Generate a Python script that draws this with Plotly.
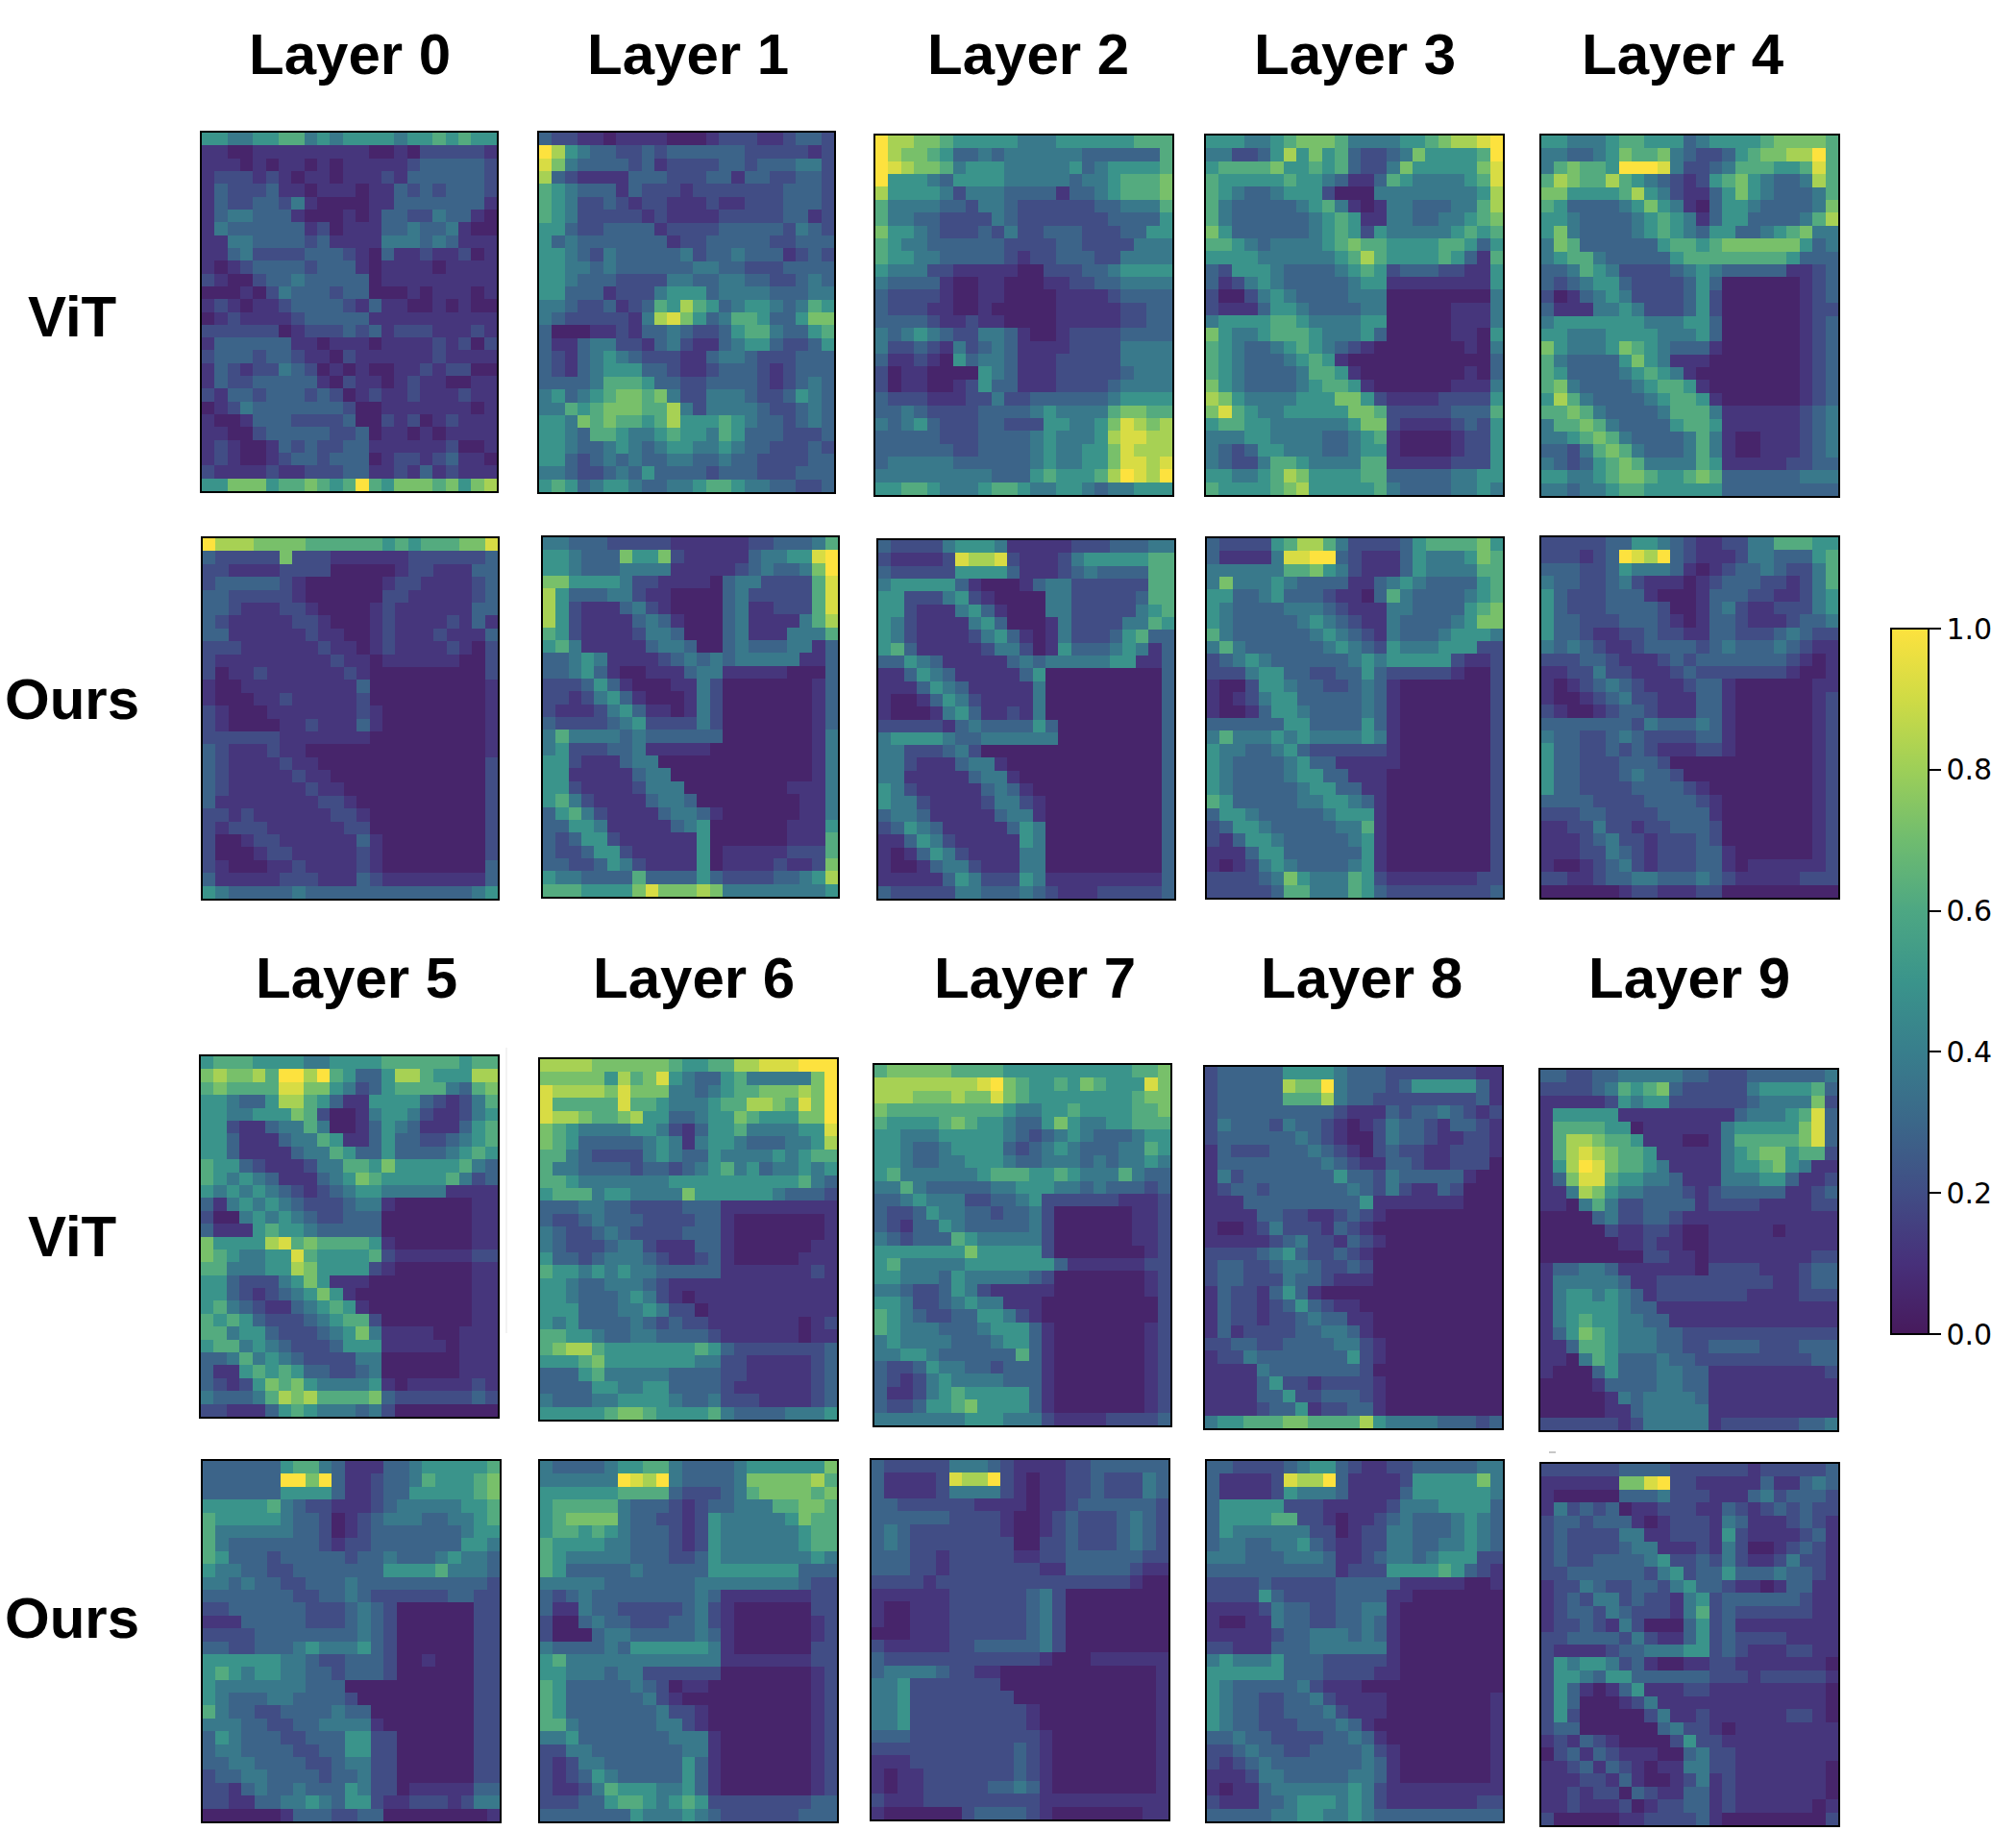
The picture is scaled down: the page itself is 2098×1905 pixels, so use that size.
import plotly.graph_objects as go

# each string is one row of a panel, one character per cell (an index into level_values)
level_values = [0.05, 0.12, 0.2, 0.29, 0.38, 0.5, 0.62, 0.72, 0.82, 0.92, 1.0]

vit_layer_0 = [
    "55445566454555545565655", "11001111111110010222221", "11101011010111112333332", "12221210110111213333332",
    "13222311011101132323332", "13223324100001133333331", "13443331000101332243310", "14333333120111334334100",
    "11443333231111444343111", "11342222333210311211201", "10123333233310111101111", "21002334333330111111111",
    "00010243332330001011101", "12101123333213110010100", "01211112333331111111111", "22222201222323122211121",
    "13333331101110111121202", "23332332110211111121111", "13212243201010011212200", "13223333310211012110011",
    "21332333232012112111211", "01243333333200111111101", "10013332222300212012111", "11002333332230110101111",
    "12100132322331111112001", "12100123323330122123110", "21111211222331121312111", "557775667656A6577767578",
]
vit_layer_1 = [
    "32211011110001222112332", "A8543322323333332222212", "97433332312222332333442", "83211113332223313322332",
    "65433313222122222223332", "65422321221112112223332", "65422222121111222223312", "55322333312222333332432",
    "53433333331223333322333", "55432433333423343331232", "55443433333344332223333", "55433322224433443322343",
    "55333122245553444433344", "44322312365865345543465", "43222221489753466533577", "30001121334322356643356",
    "31134422134211345532235", "32134543222113443222333", "32134555332112333212333", "33334666533223333212343",
    "45345677674224443223543", "44656777668424444322343", "55476766568555654332343", "55436654456554653332223",
    "55433454345544543322232", "55323434334433433222233", "44322343533332333222333", "56534554334456654433223",
]
vit_layer_2 = [
    "A8877655555444555555666", "A8776533434444443333336", "A9877645554444453455556", "A5554355554444434456667",
    "85555424443333133456667", "64444332443222222334446", "64433222243222222233335", "75543222324223332223355",
    "65443333332222332222444", "65544333332122333224444", "54442211111002223345555", "43333100110001122334444",
    "32222100110000111123333", "32221100100000111112233", "33332112110000111112233", "43454322443100122223333",
    "42232142343111122224444", "31121053443111222224444", "20110000543111222223444", "20110012533111222234444",
    "32221112242233333345555", "33432222333345444467766", "43453222332225544579878", "33333222333345444589988",
    "33333322333345445579888", "34444433333345445579989", "4444444443335655568A98A", "55665444566544554344555",
]
vit_layer_3 = [
    "5554456777644445567889A", "4422358575632234755556A", "56666755656322475555579", "65555565543113654444569",
    "65433455520004444444458", "64333334564101443334468", "64333333456511443344567", "75333333456525444445656",
    "66543444456766555566535", "55554444445686555565316", "32555433334565233322115", "31245433333455111111115",
    "20024543333444000000004", "21113554333344000001114", "45555665444455000001114", "75445666544453000001105",
    "65433456543210000000104", "65433345651000000000003", "65433334665100000000103", "75433334566510000001114",
    "87544445557752111122225", "79654455555776222223336", "56655444444577211112325", "44455444433456100001225",
    "43235544433455100001225", "43224665444466111112225", "55445687555566333334455", "65555678555556433334454",
]
vit_layer_4 = [
    "55444566555345555677776", "443345766743223567788A6", "467665AAA94223466655696", "68766865432125675433486",
    "77555568542113575433346", "65333345754103554333347", "55433334565413553333468", "57433334565435533456744",
    "47633333356656777777534", "45664333335666666665333", "33465422223454333331123", "32345532222353000000123",
    "20134542222352000000123", "31114454222352000000122", "45555555444553000000123", "55444555544453000000123",
    "75444576543331000000123", "64333357541110000000123", "65333345654100000000123", "67433334566510000000123",
    "58643333456651000000123", "66764333346664111111234", "46676433335665111111234", "44567643333464100111234",
    "33246764333464100111234", "43235676444465111112233", "55445677655676333333444", "44344566555555333333333",
]
ours_layer_0 = [
    "A8887777666666565666779", "32222272221111112222223", "22111122220000012211133", "23333321000000122111123",
    "33222221000000221111123", "33211122100001211111133", "32111112210001211112131", "33111111211001211121113",
    "22211111121101211112102", "21111111112110111111002", "20112111111210000000002", "10011111111130000000001",
    "10001121111120000000001", "21000111111121000000001", "21000011211131000000001", "22222211111110000000001",
    "32111211000000000000001", "32111121100000000000002", "32111112110000000000002", "32111111211000000000002",
    "31111111122100000000002", "22121111112210000000002", "21222111111220000000002", "20012211111131000000002",
    "20001221111121000000002", "21000112111121000000003", "31111122211132111111113", "54333334333333333333345",
]
ours_layer_1 = [
    "44333222221111112233346", "5543337557211111344559A", "5543334444111112343347A", "77555542211110344222269",
    "85333442110000342222269", "85211134210000341122269", "85211113431000341111468", "65211112443000341114446",
    "56411111344300343334413", "33454111123434344444113", "33453100111344111110003", "22235310001142000000013",
    "22124531000142000000013", "21112453110142000000013", "32222345222242000000013", "46444434333333000000014",
    "45222334111110000000014", "55211134400000000000014", "55111113440000000000014", "55211112444000000001114",
    "56421111344300000000114", "35642111134431000000114", "33554111113450000001115", "32355211111150000001116",
    "32235521111150111112226", "33223542111150111121127", "54433336333353222233458", "66655557977787444444445",
]
ours_layer_2 = [
    "32222455541111122233344", "21111298892111245555566", "32222255553111234333366", "45555531000134422222266",
    "55222452100004422222366", "55211145310004422222456", "54211114530001422224465", "54211112453101422235633",
    "56311111244201533345413", "33543111113434444455113", "11354311111350000000003", "11135431111140000000003",
    "10013542111140000000003", "10001453112140000000003", "22222134333353000000003", "45555433444444000000003",
    "44222342000000000000003", "44211134410000000000003", "44111113441000000000003", "54211111343100000000003",
    "54421111244210000000003", "34431111134410000000003", "23543111113540000000003", "11354211111540000000003",
    "10135421111440000000003", "10013442111440000000003", "11111354222541111111113", "32222244333432111222223",
]
ours_layer_3 = [
    "32222568864222235666675", "3111149 9AA3211135444576".replace(" ", ""), "44444466754211135444466", "47444543333113454333356",
    "55334533321103643333456", "54333344432111443333567", "54333334543211433334577", "64333333454321433345554",
    "46433333345432544455522", "23454333333454555552112", "22245533223353222221002", "10025543322343100000002",
    "10124553333343100000002", "10013554333343100000002", "33333355333353100000002", "46444545444454100000002",
    "54433453222222100000002", "54333345331111100000002", "54333345533111000000002", "54333334553311000000002",
    "65333334455431000000002", "35543333345551000000002", "23554333334461000000002", "21355433333451000000002",
    "11135533333351000000002", "10124543333451000000002", "22223475444652111111122", "22222366444653222222223",
]
ours_layer_4 = [
    "22222335543211224466655", "222123A98A3211124433356", "33322354443101233432246", "43322342111012333221246",
    "53222333100013332211245", "53222333320013421122245", "53322233321013321112334", "53321122322113322234322",
    "43432112333323433343211", "22233211123233333332101", "11224221112322222221001", "10123432111233100000011",
    "10012342211133100000012", "21001233211133100000012", "33333332433343100000012", "43322343222233100000012",
    "53322323211122100000012", "53322233320000000000012", "53322234332000000000012", "53322223333210000000012",
    "33332222333321000000012", "22233222233331000000012", "11224221223332000000012", "11123422122232000000012",
    "11122432122233100000012", "10012342122233101111112", "22112334433343211111222", "00000012211122000000000",
]
vit_layer_5 = [
    "56665555445555666666566", "787786AA8A6533588655588", "67666699775423566664367", "55433588653115555321246",
    "55445557620014554211245", "55211344640013543111356", "55311134465113533223456", "55311113446533533334565",
    "65532111244665755555643", "65454311134576555556423", "54545432123455444441111", "31454543222344100000011",
    "20045454322333000000011", "31115655433333000000011", "75555896766665100000011", "76544559655556211111122",
    "66444558755552100000011", "55322245751110000000011", "55321234575100000000011", "56432113456510000000011",
    "65653222345662000000011", "66455322234574111100111", "56645432223555111110111", "33464543222244000000111",
    "31156565332234000000111", "32125767544445101111121", "43334687866667322222232", "22111356544434200000000",
]
vit_layer_6 = [
    "88887777776556688999AAA", "7777758679543356444447A", "9888879777443456677787A", "9666669665444566887697A",
    "9887667855334557655577A", "76544445542135564444559", "76533333454145543334458", "66432222454335444454566",
    "64433332332345645344545", "66544444445555555555643", "56664554444755555543332", "33344332222333111111111",
    "32234333222233100000001", "43223432222333100000001", "43222344211133100000011", "53323444321123100000111",
    "65545454433333111111121", "55433444321111111111111", "55433345421011111111111", "55533344542201111111111",
    "54533334323221111111012", "66554334433332111111011", "67886555555565322222223", "55567555555544221111123",
    "33356444443333221111123", "33335544553333211111123", "43334455554334222111123", "55555677655556433334445",
]
vit_layer_7 = [
    "67777766665555555555667", "888888889A7655657655597", "88877787797655555555677", "76666666665445565555667",
    "65555676554335754455666", "55444555554323454333455", "55433455553234543334465", "55433445554334443434454",
    "56444444566655654446433", "44643333344555443433323", "33454442233452222221112", "32235443323342000000112",
    "32133543333342000000112", "43233365444442000000112", "55555557555552000000012", "56444445555555311111122",
    "55444354444432000000012", "44322354211111000000012", "55422345441110000000002", "65432233554210000000002",
    "65444333455531000000012", "45444433345531000000012", "44554333333631000000012", "32235443323331000000012",
    "32124544443331000000012", "31124565555531000000012", "32235567555531000000012", "44444445554442111122223",
]
vit_layer_8 = [
    "23333355554333222222211", "233333877A4333235555531", "23333366684332222222231", "23333333332111323343212",
    "24333243321012433213321", "23333334321002433211221", "13222333432102322112221", "13333333343211332112220",
    "14233333335332433333100", "12332333333432421132000", "11133333333351111111000", "11113322112321000000000",
    "10012422213210000000000", "11111234221321000000000", "22223453223210000000000", "23322344322320000000000",
    "23322243321110000000000", "13221353100000000000000", "13221235321100000000000", "13221223433110000000000",
    "13122223344310000000000", "22332233334421000000000", "12243333333521000000000", "11114333333320000000000",
    "11113522122221000000000", "11113352233321000000000", "11112335122331000000000", "45566677666685444433323",
]
vit_layer_9 = [
    "33223344444332223333334", "22223465673222224555563", "11111254552222223444472", "15555511111111134445693",
    "16666550111111455555793", "16887665111001466666793", "16898766511111456775662", "158A9766541111455675411",
    "13799655443111444553112", "11487544333212333331123", "11046422333312222111122", "00003422332111111111111",
    "00000211221001111101111", "00000011211001111111111", "00000000221101111111122", "13344311111102222111233",
    "14444431122222222211233", "14554543122222221111222", "14555543311111111111111", "14565544331111111111111",
    "13576544433222222222222", "11366544433223333222333", "11046533343322222222233", "10003533344331111111112",
    "00001333344331111111111", "00000143444431111111111", "00000113444441111111111", "22222212444441222222334",
]
ours_layer_5 = [
    "33333356643111334555556", "333333AA7A3112334655567", "33333355553112335555567", "55555643221112344444556",
    "65555543320123444334456", "64444443320123333333455", "64333333321223333333554", "65333233333233433345443",
    "54433223333333555564443", "44343322333433333333332", "33333332233432222223322", "22333333222343200000022",
    "11133333222343200000022", "22223333333343200000022", "33223334544453200000022", "55555544322333200100022",
    "56545544332333200000022", "54444444333000000000022", "54333443333200000000022", "64332233334330000000022",
    "44433223344441000000022", "35433322333552200000022", "34433332233552200000022", "33443333223442200000022",
    "23344333323342200000022", "22134334333542201111133", "22113344543552112221244", "00000013332233000000001",
]
ours_layer_6 = [
    "43333455664333345555557", "444444A98A4333347777786", "55555566663222346777767", "56666643332123344466776",
    "56777743322125444445766", "56656543332125444444566", "65555443332125444444566", "65444443332235444444454",
    "65333334333335555555333", "44444333333344444444322", "32343333333343111111122", "31143322222342100000022",
    "20034332223342100000012", "20003443333343100000012", "43333435555554100000022", "56444444444444111111122",
    "55444344222222000000012", "65333334320110000000012", "65333333421000000000012", "65333333342210000000012",
    "66433333344210000000012", "44533333334441000000012", "22443333333441000000012", "21244333333531000000012",
    "21235433333531000000012", "21124655544531000000012", "22233566545652222222233", "33333335444543222222333",
]
ours_layer_7 = [
    "32222244432111122333333", "311112988A2101122322243", "31111244442101122322243", "33222222111101123333332",
    "33333322221001232223432", "34322222221001232223432", "34322222222002232223432", "33322122222112233333322",
    "33322122222221133333211", "22221222222222222222100", "11111122222234200000000", "10011122222234200000000",
    "10011122222234200000000", "00011122222234200000000", "21111122333334200000000", "32222222222221000111111",
    "34444322110000000000001", "44522222220000000000001", "44522222222000000000001", "44522222222210000000001",
    "44522222222210000000001", "33322222222221000000001", "22222222222321000000001", "11122222222321000000001",
    "10112222222321000000001", "10112222233431000000001", "21112222222221111111111", "10000002333321000000011",
]
ours_layer_8 = [
    "33222234553211223333344", "311112988A3111125555574", "31111254443111135555554", "35555522211111244455553",
    "35555662210112343334543", "35444444220122443334543", "34433445321122443344543", "44433344431123443455522",
    "33333333331222555565321", "22223222223333311111001", "22225322223333110000000", "11112433223344100000000",
    "10011433223343100000000", "11111233444343100000000", "22111333444444100000000", "45444533322222100000000",
    "55555533322221100000000", "54333334211100000000000", "54332233421111000000001", "54332233342111000000001",
    "54332223334310000000001", "33433222233431000000001", "22343322333342100000001", "21234333333343100000001",
    "11124433333443100000001", "10113444444542111111111", "21113345554542111111122", "33333445544543333333333",
]
ours_layer_9 = [
    "22222233332222221222223", "111111779A2211111311343", "10000033342221113423332", "14232301122211321232322",
    "23323331012221431112321", "23222244112221521111231", "23222234411121420012321", "23223333452232421124221",
    "22333333245233533343321", "12243223324533211013311", "12324423221452333333211", "12332432221462322222211",
    "12232142000352311111111", "22333324211352322221111", "21111233444552321112211", "25455423100112211111110",
    "25543553333332221222221", "25310135111221111111110", "25300012411111111111110", "25200000241121111112210",
    "23300000034221011111111", "12132100002522111111111", "02313211100342211111111", "11231321011442211111110",
    "11122131001241211111110", "11212203211331211111110", "11211120122331211111101", "20000011222231000000002",
]

layer_names = ["Layer 0", "Layer 1", "Layer 2", "Layer 3", "Layer 4", "Layer 5", "Layer 6", "Layer 7", "Layer 8", "Layer 9"]
row_names = ["ViT", "Ours", "ViT", "Ours"]
colorbar_ticks = [0.0, 0.2, 0.4, 0.6, 0.8, 1.0]

panel_rows = [
    vit_layer_0, vit_layer_1, vit_layer_2, vit_layer_3, vit_layer_4,
    ours_layer_0, ours_layer_1, ours_layer_2, ours_layer_3, ours_layer_4,
    vit_layer_5, vit_layer_6, vit_layer_7, vit_layer_8, vit_layer_9,
    ours_layer_5, ours_layer_6, ours_layer_7, ours_layer_8, ours_layer_9,
]

W, H = 2098, 1905

# pixel boxes of the panels (left, top, right, bottom)
panel_boxes = [
    (210, 138, 517, 511), (561, 138, 868, 512), (911, 141, 1220, 515), (1255, 141, 1564, 515), (1604, 141, 1913, 516),
    (211, 560, 518, 935), (565, 559, 872, 933), (914, 562, 1222, 935), (1256, 560, 1564, 934), (1604, 559, 1913, 934),
    (209, 1099, 518, 1474), (562, 1102, 871, 1477), (910, 1108, 1218, 1483), (1254, 1110, 1563, 1486), (1603, 1113, 1912, 1488),
    (211, 1520, 520, 1895), (562, 1520, 871, 1895), (907, 1519, 1216, 1893), (1256, 1520, 1564, 1895), (1604, 1523, 1913, 1899),
]
title_pos = [(364, 56), (716, 56), (1070, 56), (1410, 56), (1751, 56), (371, 1017), (722, 1017), (1077, 1017), (1417, 1017), (1758, 1017)]
row_label_pos = [(75, 329), (75, 727), (75, 1286), (75, 1683)]

# the reference's viridis is slightly washed out
washed_viridis = [
    [0.0, "#471a5c"], [0.1, "#47307a"], [0.2, "#414d85"], [0.3, "#3b6789"], [0.4, "#387e8c"],
    [0.5, "#3a948b"], [0.6, "#4da783"], [0.7, "#6fbc6f"], [0.8, "#9dcf58"], [0.9, "#cfdb45"], [1.0, "#fde23e"],
]


def to_values(rows):
    out = []
    for row in rows:
        row = row.ljust(23, row[-1])[:23]
        out.append([level_values[10 if c == "A" else int(c)] for c in row])
    return out


fig = go.Figure()
layout_axes = {}
for i, (rows, box) in enumerate(zip(panel_rows, panel_boxes)):
    n = "" if i == 0 else str(i + 1)
    fig.add_trace(go.Heatmap(z=to_values(rows), coloraxis="coloraxis", xaxis="x" + n, yaxis="y" + n))
    left, top, right, bottom = box
    frame = dict(showticklabels=False, ticks="", showgrid=False, zeroline=False,
                 showline=True, mirror=True, linecolor="black", linewidth=2)
    layout_axes["xaxis" + n] = dict(domain=[left / W, right / W], anchor="y" + n, **frame)
    layout_axes["yaxis" + n] = dict(domain=[1 - bottom / H, 1 - top / H], anchor="x" + n, autorange="reversed", **frame)

annotations = []
for name, (x, y) in list(zip(layer_names, title_pos)) + list(zip(row_names, row_label_pos)):
    annotations.append(dict(text="<b>" + name + "</b>", x=x / W, y=1 - y / H, xref="paper", yref="paper",
                            xanchor="center", yanchor="middle", showarrow=False,
                            font=dict(family="Liberation Sans", size=60, color="black")))

# stray scan marks in the reference
shapes = [
    dict(type="line", xref="paper", yref="paper", x0=527 / W, x1=527 / W, y0=1 - 1090 / H, y1=1 - 1387 / H,
         line=dict(color="#e6e6e6", width=1)),
    dict(type="line", xref="paper", yref="paper", x0=1612 / W, x1=1619 / W, y0=1 - 1511 / H, y1=1 - 1511 / H,
         line=dict(color="#b5b5b5", width=1.5)),
]

fig.update_layout(
    width=W, height=H,
    margin=dict(l=0, r=0, t=0, b=0),
    paper_bgcolor="white",
    plot_bgcolor="white",
    annotations=annotations,
    shapes=shapes,
    coloraxis=dict(
        colorscale=washed_viridis, cmin=0, cmax=1,
        colorbar=dict(
            x=1968 / W, xanchor="left", y=1 - 1021 / H, yanchor="middle",
            thickness=39, thicknessmode="pixels", len=734, lenmode="pixels",
            xpad=0, ypad=0, outlinecolor="black", outlinewidth=2,
            tickvals=colorbar_ticks, ticktext=["%.1f" % t for t in colorbar_ticks],
            ticks="outside", ticklen=12, tickwidth=2, tickcolor="black",
            tickfont=dict(family="DejaVu Sans", size=30, color="black"),
        ),
    ),
    **layout_axes,
)

fig.write_html("out.html", config={"displayModeBar": False}, post_script="document.body.style.margin='0';")
